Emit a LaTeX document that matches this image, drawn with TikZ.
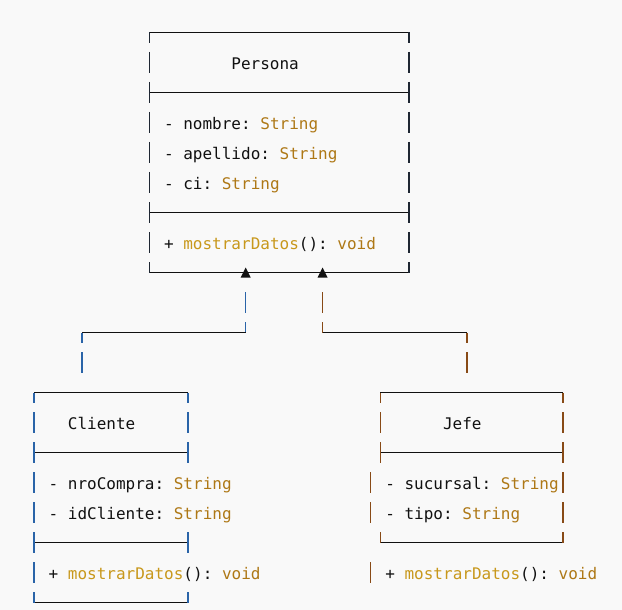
\documentclass[tikz,border=0pt]{standalone}
\usepackage{fontspec}
\setmonofont{DejaVu Sans Mono}
\usepackage{tikz}
\usetikzlibrary{positioning}

\definecolor{fondo}{HTML}{F9F9F9}
\definecolor{tinta}{HTML}{111111}
\definecolor{tipodato}{HTML}{AE7816}
\definecolor{metodo}{HTML}{C8981C}
\definecolor{barP}{HTML}{1F2733}
\definecolor{barC}{HTML}{2A64A8}
\definecolor{barJ}{HTML}{884A16}
\newcommand{\tyString}{\textcolor{tipodato}{String}}
\newcommand{\metDatos}{+ \textcolor{metodo}{mostrarDatos}(): \textcolor{tipodato}{void}}

\begin{document}
\begin{tikzpicture}[x=9.62pt,y=-30pt]

 \tikzset{txt/.style={anchor=base west, inner sep=0pt, text=tinta,
 		font=\ttfamily\fontsize{16pt}{16pt}\selectfont},
 	hline/.style={draw=tinta, line width=1.2pt},
 	vbar/.style={draw=#1, line width=1.5pt},
 	vbar/.default=barP
 }
 \path[use as bounding box, fill=fondo] (-34pt,32.5pt) rectangle (588pt,-577.5pt);

 % Persona
 \draw[hline] (12,0) -- (39,0) (12,2) -- (39,2) (12,6) -- (39,6) (12,8) -- (39,8);
 \foreach \c in {12,39}{
 	\draw[vbar] (\c,0) -- (\c,.35) (\c,7.65) -- (\c,8);
 	\foreach \r in {1,...,7} \draw[vbar] (\c,\r-.35) -- (\c,\r+.35);
 }
 \node[txt] (persona) at (20.5,1.22) {Persona};
 \node[txt] (nombre) at (13.5,3.22) {- nombre: \tyString};
 \node[txt] (apellido) at ([yshift=-30pt]nombre.base west) {- apellido: \tyString};
 \node[txt] (ci) at ([yshift=-30pt]apellido.base west) {- ci: \tyString};
 \node[txt] (metP) at (13.5,7.22) {\metDatos};
 \coordinate (herC) at (22,8);
 \coordinate (herJ) at (30,8);
 \foreach \h in {herC,herJ}
 	\fill[tinta] (\h) ++(-5pt,-5pt) -- ++(10pt,0) -- ++(-5pt,10pt) -- cycle;

 % Cliente
 \draw[hline] (0,12) -- (16,12) (0,14) -- (16,14) (0,17) -- (16,17) (0,19) -- (16,19);
 \foreach \c in {0,16}
 	\draw[vbar=barC] (\c,12) -- (\c,12.35) (\c,18.65) -- (\c,19);
 \foreach \r in {13,...,18} \draw[vbar=barC] (0,\r-.35) -- (0,\r+.35);
 \foreach \r in {13,14,17} \draw[vbar=barC] (16,\r-.35) -- (16,\r+.35);
 \node[txt] (cliente) at (3.5,13.22) {Cliente};
 \node[txt] (nroCompra) at (1.5,15.22) {- nroCompra: \tyString};
 \node[txt] (idCliente) at ([yshift=-30pt]nroCompra.base west) {- idCliente: \tyString};
 \node[txt] (metC) at (1.5,18.22) {\metDatos};

 % Jefe
 \draw[hline] (36,12) -- (55,12) (36,14) -- (55,14) (36,17) -- (55,17);
 \foreach \c in {36,55}
 	\draw[vbar=barJ] (\c,12) -- (\c,12.35) (\c,16.65) -- (\c,17);
 \foreach \r in {13,14} \draw[vbar=barJ] (36,\r-.35) -- (36,\r+.35);
 \foreach \r in {15,16,18} \draw[vbar=barJ] (35,\r-.35) -- (35,\r+.35);
 \foreach \r in {13,...,16} \draw[vbar=barJ] (55,\r-.35) -- (55,\r+.35);
 \node[txt] (jefe) at (42.5,13.22) {Jefe};
 \node[txt] (sucursal) at (36.5,15.22) {- sucursal: \tyString};
 \node[txt] (tipo) at ([yshift=-30pt]sucursal.base west) {- tipo: \tyString};
 \node[txt] (metJ) at (36.5,18.22) {\metDatos};

 % herencia
 \coordinate (codoC1) at (22,10);
 \coordinate (codoC2) at (5,10);
 \coordinate (codoJ1) at (30,10);
 \coordinate (codoJ2) at (45,10);
 \draw[vbar=barC] (22,8.65) -- (22,9.35) (22,9.65) -- (codoC1)
 	(codoC2) -- (5,10.35) (5,10.65) -- (5,11.35);
 \draw[hline] (codoC1) -- (codoC2);
 \draw[vbar=barJ] (30,8.65) -- (30,9.35) (30,9.65) -- (codoJ1)
 	(codoJ2) -- (45,10.35) (45,10.65) -- (45,11.35);
 \draw[hline] (codoJ1) -- (codoJ2);
\end{tikzpicture}
\end{document}
